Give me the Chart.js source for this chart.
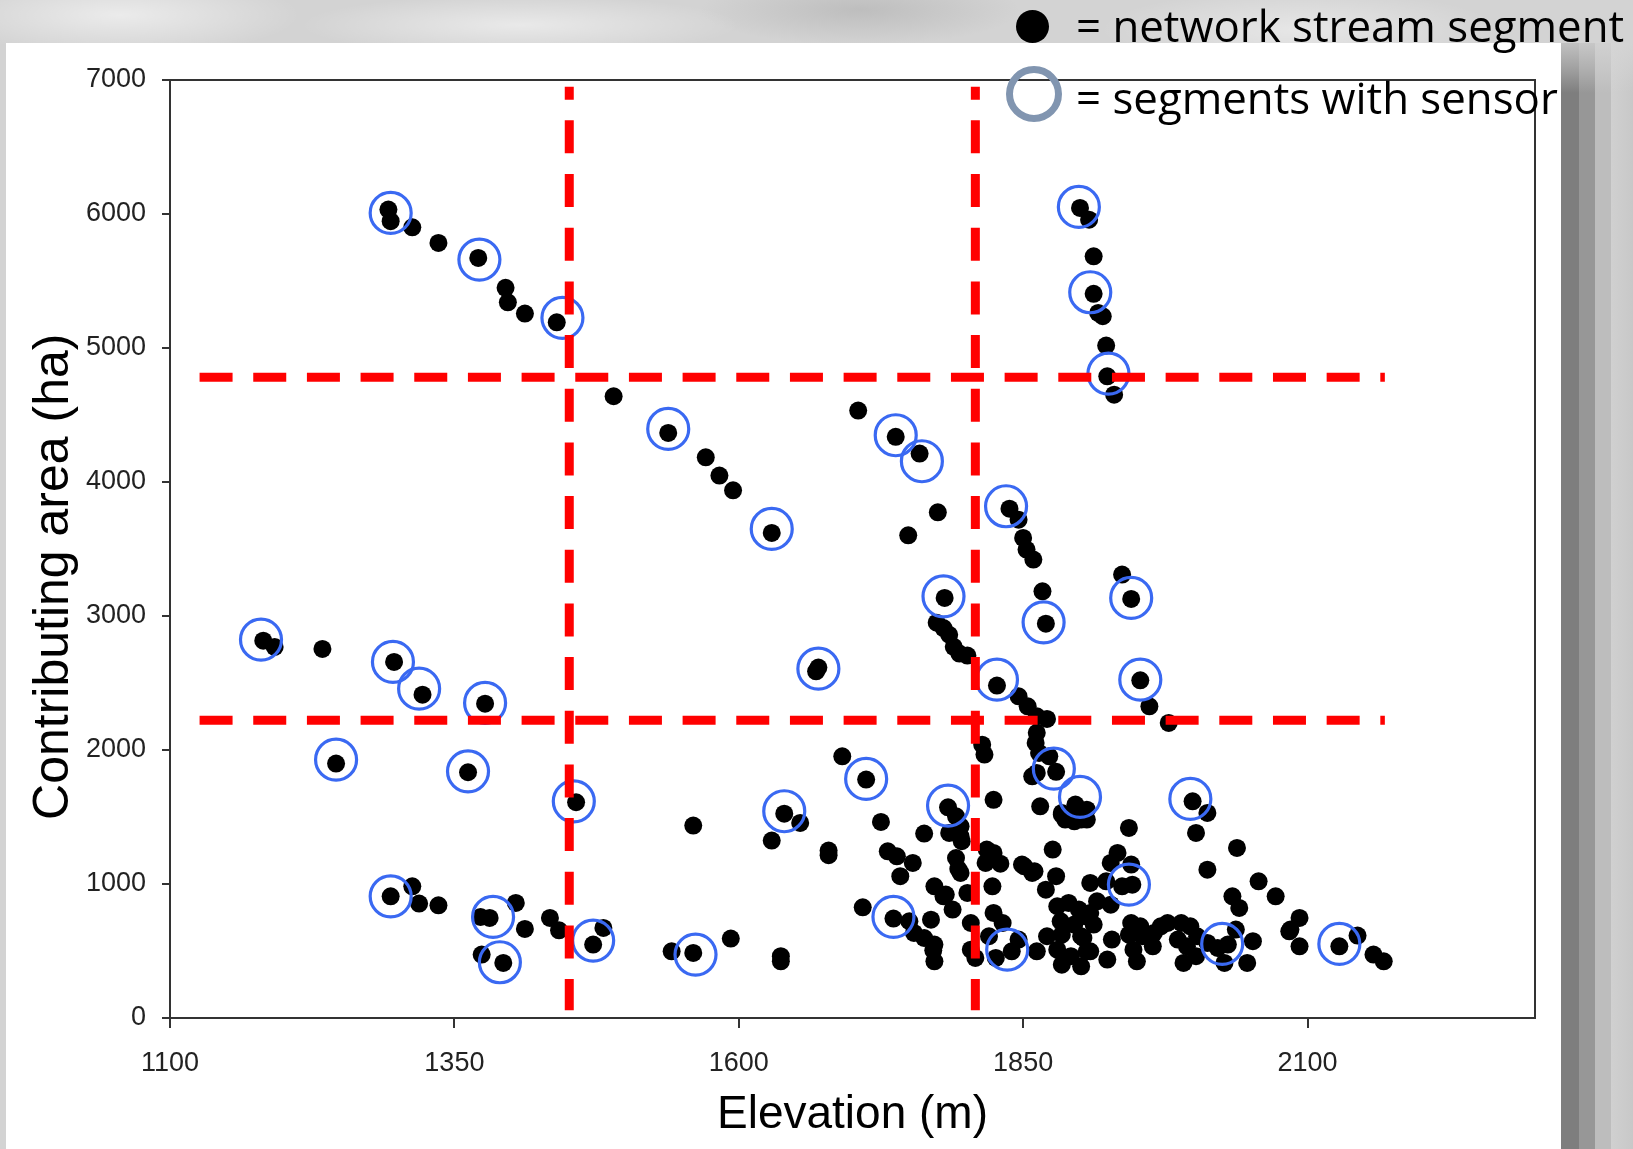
<!DOCTYPE html>
<html>
<head>
<meta charset="utf-8">
<script src="https://cdn.jsdelivr.net/npm/chart.js@4.4.1/dist/chart.umd.min.js"></script>
<style>
html,body{margin:0;padding:0;}
body{width:1633px;height:1149px;position:relative;overflow:hidden;
  background:
    radial-gradient(ellipse 180px 40px at 120px 15px, rgba(255,255,255,0.55), rgba(255,255,255,0) 100%),
    radial-gradient(ellipse 220px 30px at 520px 25px, rgba(255,255,255,0.5), rgba(255,255,255,0) 100%),
    radial-gradient(ellipse 160px 35px at 860px 10px, rgba(150,150,150,0.35), rgba(150,150,150,0) 100%),
    radial-gradient(ellipse 200px 40px at 1300px 30px, rgba(255,255,255,0.45), rgba(255,255,255,0) 100%),
    #d3d3d3;}
#panel{position:absolute;left:6px;top:43px;width:1555px;height:1106px;background:#fff;}
#bars{position:absolute;left:1561px;top:43px;width:72px;height:1106px;
  background:
    linear-gradient(to bottom, rgba(215,215,215,0.75) 0, rgba(215,215,215,0.4) 25px, rgba(215,215,215,0) 50px),
    linear-gradient(to right,#7e7e7e 0,#7e7e7e 18px,#979797 18px,#979797 34px,#bdbdbd 34px,#bdbdbd 50px,#d0d0d0 50px,#c8c8c8 72px);}
#c{position:absolute;left:0;top:0;}
.leg{position:absolute;left:1076px;font-family:'Open Sans',sans-serif;font-size:43.8px;line-height:50px;color:#000;white-space:nowrap;}
.mk1{position:absolute;left:1016px;top:10px;width:33px;height:33px;border-radius:50%;background:#000;}
.mk2{position:absolute;left:1006px;top:66px;width:42px;height:42px;border-radius:50%;border:7px solid #8195b0;}
</style>
</head>
<body>
<div id="panel"></div>
<div id="bars"></div>
<canvas id="c" width="1633" height="1149"></canvas>
<div class="mk1"></div>
<div class="leg" style="top:0px;">= network stream segment</div>
<div class="mk2"></div>
<div class="leg" style="top:72px;">= segments with sensor</div>
<script>
// ---- data ----
const xTitle = 'Elevation (m)';
const yTitle = 'Contributing area (ha)';
const xTickValues = [1100, 1350, 1600, 1850, 2100];
const yTickValues = [0, 1000, 2000, 3000, 4000, 5000, 6000, 7000];

// network stream segments: elevation (m)
const segElev = [
 1292,1294,1313,1336,1371,1395,1397,1412,1440,1490,
 1900,1908,1912,1912,1916,1920,1923,1924,1930,
 1538,1571,1583,1595,1629,1705,1738,1759,1775,1749,
 1838,1846,1850,1853,1859,1867,1870,1781,1774,1780,1785,1789,1794,1801,
 1827,1846,1854,1862,1871,1862,1861,1864,1873,1814,1816,1879,1858,1862,
 1937,1945,1953,1961,1978,
 1182,1192,1234,1297,1322,1377,1246,1362,1457,1668,1670,
 1294,1313,1319,1336,1373,1381,1404,1412,1434,1442,1374,1393,1472,1481,
 1541,1560,1593,1637,1637,1560,1640,1654,1629,1679,1679,1691,1712,1709,1736,
 1725,1763,1784,1791,1824,1785,1795,1796,1791,1793,1731,1739,1753,1742,
 1818,1824,1817,1830,1851,1860,1876,1879,1870,1823,1772,1782,1788,1801,
 1750,1754,1769,1772,1771,1772,1763,1804,1804,1808,1824,1832,1820,1840,1826,1846,1871,1862,
 1880,1890,1899,1883,1895,1905,1884,1901,1880,1892,1906,1884,1901,
 1865,1884,1896,1901,1887,1884,1895,1906,1896,1795,1795,1849,1858,1780,
 1999,2012,2002,1943,2038,2012,2057,2072,2034,2040,2084,1906,
 1933,1927,1945,1946,1937,1923,1909,1915,1927,1909,1912,1903,1909,1924,1928,
 1945,1953,1943,1955,1947,1964,1950,1971,1977,1965,1989,1997,1986,1994,2003,1991,2002,
 2021,2030,2037,2052,2027,2047,2012,
 2093,2085,2093,2128,2144,2158,2167
];
// network stream segments: contributing area (ha)
const segArea = [
 6033,5946,5901,5784,5672,5449,5341,5257,5192,4640,
 6045,5958,5684,5404,5262,5237,5018,4789,4652,
 4366,4184,4048,3938,3620,4533,4337,4212,3774,3602,
 3801,3719,3583,3496,3421,3184,2943,3135,2950,2910,2860,2770,2720,2705,
 2481,2401,2326,2251,2232,2128,2053,1978,1953,2040,1966,1837,1804,1829,
 3309,3127,2520,2326,2202,
 2816,2769,2754,2657,2413,2346,1899,1834,1610,2587,2615,
 908,983,854,841,754,747,859,665,747,654,473,411,548,672,
 498,486,593,461,423,1436,1525,1456,1324,1250,1215,1953,1779,826,742,
 1463,1376,1572,1505,1628,1381,1356,1319,1194,1112,1244,1207,1157,1058,
 1257,1232,1157,1152,1132,1095,1257,1058,958,983,983,921,809,933,
 722,635,734,548,505,423,597,709,510,448,784,709,610,498,448,585,610,498,
 834,859,809,722,697,759,622,610,510,461,498,398,386,
 1580,1530,1580,1481,1481,1518,1468,1481,1593,1431,1083,1145,1083,908,
 1617,1530,1381,1418,1269,1107,1020,908,908,821,647,1555,
 1232,1157,1145,995,983,1020,1008,871,846,784,697,597,498,436,585,
 709,684,622,610,510,535,423,684,709,635,709,684,585,535,610,411,461,
 523,548,660,573,411,411,560,
 747,660,535,535,615,473,423
];

// segments with a sensor
const sensorElev = [
 1294,1372,1445,1538,1629,1738,1761,1835,1899,1909,1925,
 1180,1296,1319,1377,1246,1362,1455,1294,1384,1390,1472,
 1780,1670,1712,1640,1784,1562,1736,
 1868,1945,1953,1827,1877,1900,1997,1943,1836,2025,2128
];
const sensorArea = [
 6008,5660,5225,4396,3650,4349,4155,3819,6053,5416,4809,
 2823,2657,2458,2351,1928,1841,1617,908,754,416,578,
 3147,2607,1784,1543,1585,473,755,
 2953,3135,2525,2525,1861,1650,1635,996,510,553,553
];

// threshold lines (red dashed)
const thresholdElev = [1451, 1808];       // vertical lines
const thresholdElevSpan = [6950, 57];     // area range covered by vertical lines
const thresholdArea = [4781, 2222];       // horizontal lines
const thresholdAreaSpan = [1126, 2168];   // elevation range covered by horizontal lines

// ---- build datasets ----
const segPoints = segElev.map((x, i) => ({x: x, y: segArea[i]}));
const sensorPoints = sensorElev.map((x, i) => ({x: x, y: sensorArea[i]}));

const lineStyle = {
  type: 'line', showLine: true, borderColor: '#ff0000', borderWidth: 9,
  borderCapStyle: 'butt', pointRadius: 0, fill: false, order: 0, tension: 0
};
const lineSets = [];
thresholdElev.forEach(v => lineSets.push(Object.assign({}, lineStyle, {
  data: thresholdElevSpan.map(a => ({x: v, y: a})), borderDash: [33, 20.67], borderDashOffset: 20
})));
thresholdArea.forEach(v => lineSets.push(Object.assign({}, lineStyle, {
  data: thresholdAreaSpan.map(e => ({x: e, y: v})), borderDash: [33, 20.67], borderDashOffset: 0
})));

const boxPlugin = {
  id: 'box',
  beforeDatasetsDraw(chart) {
    const {ctx, chartArea: a} = chart;
    ctx.save();
    ctx.strokeStyle = '#333';
    ctx.lineWidth = 2;
    ctx.strokeRect(a.left, a.top, a.right - a.left, a.bottom - a.top);
    ctx.restore();
  }
};

new Chart(document.getElementById('c'), {
  type: 'scatter',
  data: {
    datasets: [
      ...lineSets,
      {label: 'segments with sensor', data: sensorPoints, pointRadius: 20.5, pointHoverRadius: 20.5,
       pointBackgroundColor: 'rgba(0,0,0,0)', pointBorderColor: '#3a69f2', pointBorderWidth: 3.2, order: 1},
      {label: 'network stream segment', data: segPoints, pointRadius: 9, pointHoverRadius: 9,
       pointBackgroundColor: '#000', pointBorderWidth: 0, order: 2}
    ]
  },
  options: {
    responsive: false, animation: false, devicePixelRatio: 1,
    layout: {padding: {left: 0, top: 80, right: 98, bottom: 0}},
    plugins: {legend: {display: false}, tooltip: {enabled: false}},
    scales: {
      x: {
        type: 'linear', min: 1100, max: 2300,
        afterBuildTicks: s => { s.ticks = xTickValues.map(v => ({value: v})); },
        afterFit: s => { s.height = 131; },
        ticks: {font: {family: 'Liberation Sans', size: 27}, color: '#222', padding: 19, callback: v => String(v)},
        grid: {display: true, drawOnChartArea: false, drawTicks: true, tickLength: 10, color: '#333', lineWidth: 2},
        border: {display: true, color: '#333', width: 2},
        title: {display: true, text: xTitle, font: {family: 'Liberation Sans', size: 46}, color: '#000', padding: {top: 0, bottom: 6}}
      },
      y: {
        type: 'linear', min: 0, max: 7000,
        afterBuildTicks: s => { s.ticks = yTickValues.map(v => ({value: v})); },
        afterFit: s => { s.width = 170; },
        ticks: {font: {family: 'Liberation Sans', size: 27}, color: '#222', padding: 16, callback: v => String(v)},
        grid: {display: true, drawOnChartArea: false, drawTicks: true, tickLength: 8, color: '#333', lineWidth: 2},
        border: {display: true, color: '#333', width: 2},
        title: {display: true, text: yTitle + '    ', font: {family: 'Liberation Sans', size: 50}, color: '#000', padding: {top: 24, bottom: 0}}
      }
    }
  },
  plugins: [boxPlugin]
});
</script>
</body>
</html>
